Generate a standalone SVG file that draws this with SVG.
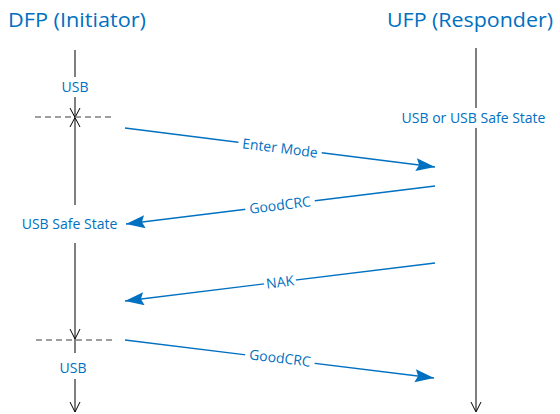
<svg xmlns="http://www.w3.org/2000/svg" width="560" height="414" viewBox="0 0 560 414">
<style>
.t{font-family:"Open Sans","Noto Sans",sans-serif;fill:#0070C0}
.title{font-size:20px}
.lbl{font-size:14px}
.msg{stroke:#0070C0;stroke-width:1.3;fill:none;marker-end:url(#ah)}
.life{stroke:#000;stroke-width:1;fill:none}
.lifeg{stroke:#7f7f7f;stroke-width:2;fill:none}
.dash{stroke:#7f7f7f;stroke-width:1.6;stroke-dasharray:6 4;fill:none}
.open{stroke:#000;stroke-width:1;fill:none}
</style>
<defs>
<marker id="ah" markerUnits="userSpaceOnUse" markerWidth="20" markerHeight="14" refX="19" refY="6.5" orient="auto">
<path d="M0,0 L19,6.5 L0,13 L3,6.5 Z" fill="#0070C0"/>
</marker>
</defs>
<g id="dfp">
<text class="t title" x="8" y="27" textLength="138" lengthAdjust="spacingAndGlyphs">DFP (Initiator)</text>
<line class="lifeg" x1="75" y1="50" x2="75" y2="77"/>
<text class="t lbl" x="75" y="92" text-anchor="middle">USB</text>
<line class="lifeg" x1="75" y1="97" x2="75" y2="117"/>
<path class="open" d="M70,108 L80,127 M80,108 L70,127"/>
<line class="dash" x1="35" y1="117" x2="113" y2="117"/>
<line class="life" x1="75" y1="118" x2="75" y2="205"/>
<text class="t lbl" x="69.5" y="229" text-anchor="middle">USB Safe State</text>
<line class="life" x1="75" y1="243" x2="75" y2="353"/>
<path class="open" d="M70,329 L75,339 L80,329"/>
<line class="dash" x1="36" y1="340" x2="114" y2="340"/>
<text class="t lbl" x="73" y="373" text-anchor="middle">USB</text>
<line class="life" x1="75" y1="379" x2="75" y2="412"/>
<path class="open" d="M70,402 L75,412 L80,402"/>
</g>
<g id="ufp">
<text class="t title" x="387" y="27" textLength="166" lengthAdjust="spacingAndGlyphs">UFP (Responder)</text>
<line class="lifeg" x1="476" y1="48" x2="476" y2="108"/>
<text class="t lbl" x="473.5" y="123" text-anchor="middle">USB or USB Safe State</text>
<line class="lifeg" x1="476" y1="128" x2="476" y2="411"/>
<path class="open" d="M471,402 L476,412 L481,402"/>
</g>
<g id="connectors">
<line class="msg" x1="125" y1="128" x2="435" y2="167"/>
<line class="msg" x1="435" y1="186" x2="126" y2="224"/>
<line class="msg" x1="435" y1="263" x2="125" y2="301"/>
<line class="msg" x1="125" y1="340" x2="434" y2="378"/>
<g transform="translate(280,148) rotate(7.2)">
<rect x="-42" y="-9" width="84" height="17" fill="#fff"/>
<text class="t lbl" x="0" y="5" text-anchor="middle">Enter Mode</text>
</g>
<g transform="translate(280,205) rotate(-7)">
<rect x="-35" y="-9" width="70" height="17" fill="#fff"/>
<text class="t lbl" x="0" y="5" text-anchor="middle">GoodCRC</text>
</g>
<g transform="translate(280,282) rotate(-7)">
<rect x="-16" y="-9" width="32" height="17" fill="#fff"/>
<text class="t lbl" x="0" y="5" text-anchor="middle">NAK</text>
</g>
<g transform="translate(280,358) rotate(7)">
<rect x="-35" y="-9" width="70" height="17" fill="#fff"/>
<text class="t lbl" x="0" y="5" text-anchor="middle">GoodCRC</text>
</g>
</g>
</svg>
